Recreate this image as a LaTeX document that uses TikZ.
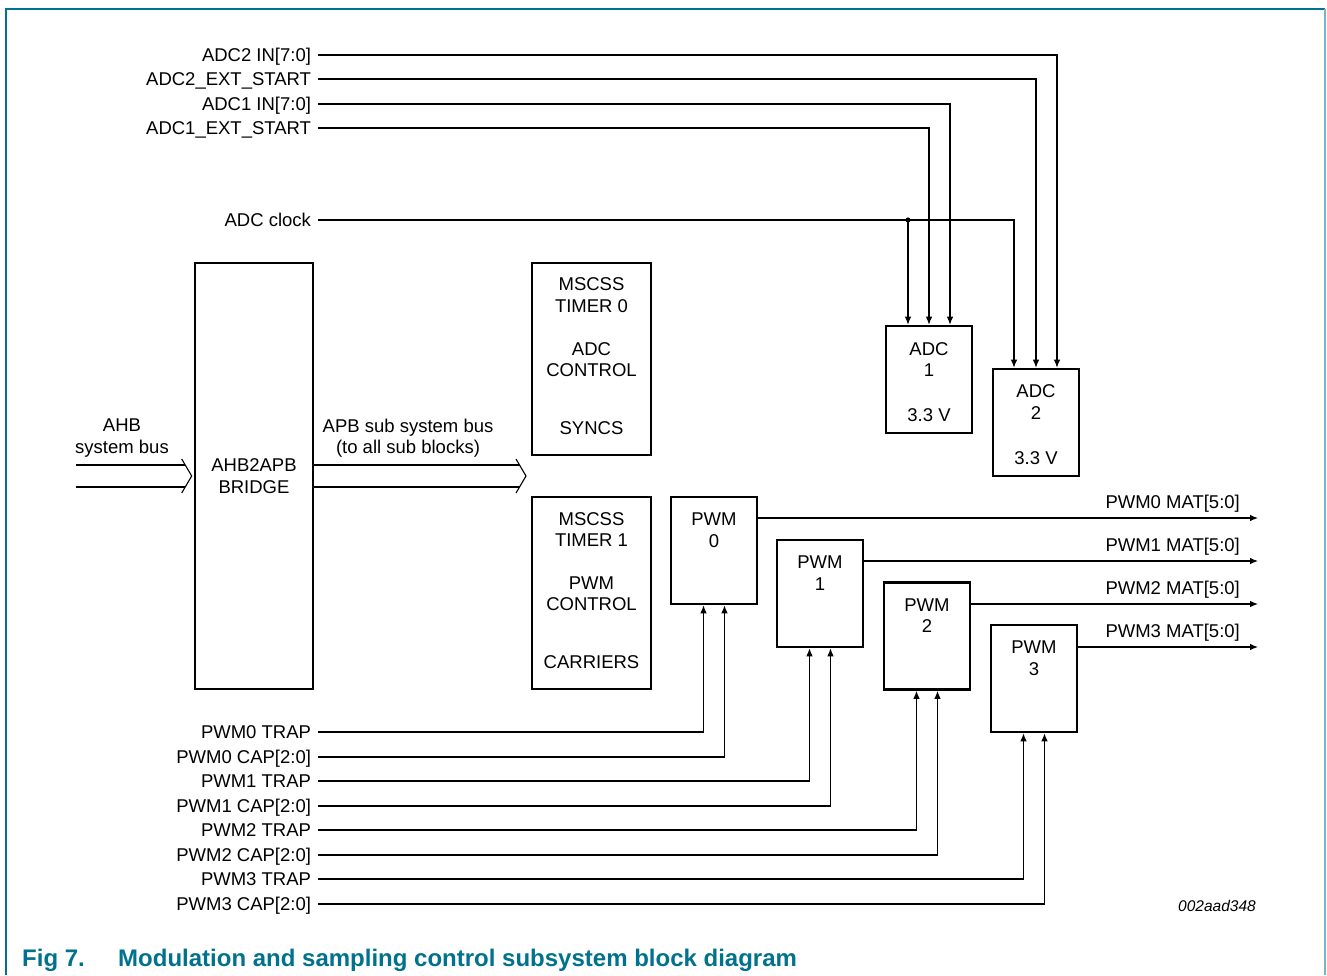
\documentclass[tikz,border=0pt]{standalone}
\usepackage{fontspec}
\setmainfont{Liberation Sans}
\usetikzlibrary{arrows.meta, positioning}
\definecolor{nxpteal}{RGB}{0,114,141}
\definecolor{nxpframe}{RGB}{120,180,196}
\tikzset{
	blk/.style={draw, line width=2.6pt, minimum width=86pt, minimum height=107pt, inner sep=0pt, align=center},
	wire/.style={line width=1.1pt},
	sig/.style={wire, -{Latex[length=8pt,width=6.5pt]}},
	pin/.style={anchor=east, inner sep=0pt, outer xsep=7pt, text height=13.2pt, text depth=0pt},
	matlbl/.style={anchor=base east, inner sep=0pt},
	blktxt/.style={anchor=north, inner sep=0pt, align=center},
	figcap/.style={anchor=base west, inner sep=0pt, text=nxpteal, font=\fontsize{24}{28}\selectfont\bfseries},
}

\begin{document}
\begin{tikzpicture}[x=1pt, y=-1pt, font=\fontsize{18.5}{21.5}\selectfont]
	\useasboundingbox (0,0) rectangle (1327,975);
	\draw[nxpteal, line width=1.5pt] (6,975) -- (6,9) -- (1325,9);
	\draw[nxpframe, line width=1.5pt] (1325,9) -- (1325,975);

	% blocks
	\node[blk, minimum width=118pt, minimum height=426pt] (bridge) at (254,476) {AHB2APB\\BRIDGE};
	\node[blk, minimum width=119pt, minimum height=192pt] (tmr0) at (591.5,359) {};
	\node[blk, minimum width=119pt, minimum height=192pt] (tmr1) at (591.5,593) {};
	\node[blk] (adc1) at (929,379.5) {};
	\node[blk] (adc2) at (1036,422.5) {};
	\node[blk] (pwm0) at (714,550.5) {};
	\node[blk] (pwm1) at (820,593.5) {};
	\node[blk] (pwm2) at (927,636) {};
	\node[blk] (pwm3) at (1034,678.5) {};
	\node[blktxt] (tmr0-t) at ([yshift=-16pt]tmr0.north) {MSCSS\\TIMER 0\\[21.5pt]ADC\\CONTROL\\[36.5pt]SYNCS};
	\node[blktxt] (tmr1-t) at ([yshift=-16.5pt]tmr1.north) {MSCSS\\TIMER 1\\[21pt]PWM\\CONTROL\\[36pt]CARRIERS};
	\node[blktxt] (adc1-t) at ([yshift=-17.5pt]adc1.north) {ADC\\1\\[23.5pt]3.3 V};
	\node[blktxt] (adc2-t) at ([yshift=-17pt]adc2.north) {ADC\\2\\[23.5pt]3.3 V};
	\node[blktxt] (pwm0-t) at ([yshift=-17pt]pwm0.north) {PWM\\0};
	\node[blktxt] (pwm1-t) at ([yshift=-17pt]pwm1.north) {PWM\\1};
	\node[blktxt] (pwm2-t) at ([yshift=-17pt]pwm2.north) {PWM\\2};
	\node[blktxt] (pwm3-t) at ([yshift=-17pt]pwm3.north) {PWM\\3};

	% ADC inputs
	\node[pin] (in2) at (318,55) {ADC2 IN[7:0]};
	\node[pin] (st2) at (318,79) {ADC2\_EXT\_START};
	\node[pin] (in1) at (318,104) {ADC1 IN[7:0]};
	\node[pin] (st1) at (318,128) {ADC1\_EXT\_START};
	\node[pin] (clk) at (318,220) {ADC clock};
	\draw[sig] (in2.east) -| ([xshift=21pt]adc2.north);
	\draw[sig] (st2.east) -| (adc2.north);
	\draw[sig] (in1.east) -| ([xshift=21pt]adc1.north);
	\draw[sig] (st1.east) -| (adc1.north);
	\draw[sig] (clk.east) -| ([xshift=-22pt]adc2.north);
	\coordinate (clkdot) at ([xshift=-21pt]adc1.north |- clk.east);
	\fill (clkdot) circle (2.6pt);
	\draw[sig] (clkdot) -- (clkdot |- adc1.north);

	% buses
	\node[align=center, inner sep=0pt] (ahb-l) at (122,438) {AHB\\system bus};
	\node[align=center, inner sep=0pt] (apb-l) at (408,438) {APB sub system bus\\(to all sub blocks)};
	\coordinate (ahbtip) at ([xshift=-2pt]bridge.west);
	\draw[wire] ([shift={(-116,-11)}]ahbtip) -- ([shift={(-6.5,-11)}]ahbtip);
	\draw[wire] ([shift={(-116,11)}]ahbtip) -- ([shift={(-6.5,11)}]ahbtip);
	\draw[wire] ([shift={(-10,-17)}]ahbtip) -- (ahbtip) -- ([shift={(-10,17)}]ahbtip);
	\coordinate (apbtip) at (526,476);
	\draw[wire] (bridge.east |- 0,465) -- ([shift={(-6.5,-11)}]apbtip);
	\draw[wire] (bridge.east |- 0,487) -- ([shift={(-6.5,11)}]apbtip);
	\draw[wire] ([shift={(-10,-17)}]apbtip) -- (apbtip) -- ([shift={(-10,17)}]apbtip);

	% PWM outputs
	\coordinate (mat0) at (1258,518);
	\coordinate (mat1) at (1258,561);
	\coordinate (mat2) at (1258,604);
	\coordinate (mat3) at (1258,647);
	\draw[sig] (pwm0.east |- mat0) -- (mat0);
	\draw[sig] (pwm1.east |- mat1) -- (mat1);
	\draw[sig] (pwm2.east |- mat2) -- (mat2);
	\draw[sig] (pwm3.east |- mat3) -- (mat3);
	\node[matlbl] (mat0-l) at (1240,508.6) {PWM0 MAT[5:0]};
	\node[matlbl] (mat1-l) at (1240,551.6) {PWM1 MAT[5:0]};
	\node[matlbl] (mat2-l) at (1240,594.6) {PWM2 MAT[5:0]};
	\node[matlbl] (mat3-l) at (1240,637.6) {PWM3 MAT[5:0]};

	% PWM inputs
	\node[pin] (trap0) at (318,732) {PWM0 TRAP};
	\node[pin] (cap0) at (318,757) {PWM0 CAP[2:0]};
	\node[pin] (trap1) at (318,781) {PWM1 TRAP};
	\node[pin] (cap1) at (318,806) {PWM1 CAP[2:0]};
	\node[pin] (trap2) at (318,830) {PWM2 TRAP};
	\node[pin] (cap2) at (318,855) {PWM2 CAP[2:0]};
	\node[pin] (trap3) at (318,879) {PWM3 TRAP};
	\node[pin] (cap3) at (318,904) {PWM3 CAP[2:0]};
	\draw[sig] (trap0.east) -| ([xshift=-10.5pt]pwm0.south);
	\draw[sig] (cap0.east) -| ([xshift=10.5pt]pwm0.south);
	\draw[sig] (trap1.east) -| ([xshift=-10.5pt]pwm1.south);
	\draw[sig] (cap1.east) -| ([xshift=10.5pt]pwm1.south);
	\draw[sig] (trap2.east) -| ([xshift=-10.5pt]pwm2.south);
	\draw[sig] (cap2.east) -| ([xshift=10.5pt]pwm2.south);
	\draw[sig] (trap3.east) -| ([xshift=-10.5pt]pwm3.south);
	\draw[sig] (cap3.east) -| ([xshift=10.5pt]pwm3.south);

	\node[anchor=base east, inner sep=0pt, font=\fontsize{15.5}{18}\selectfont\itshape] (docid) at (1256,911.5) {002aad348};
	\node[figcap] (fignum) at (22,966) {Fig 7.};
	\node[figcap] (figtitle) at (118,966) {Modulation and sampling control subsystem block diagram};
\end{tikzpicture}
\end{document}
